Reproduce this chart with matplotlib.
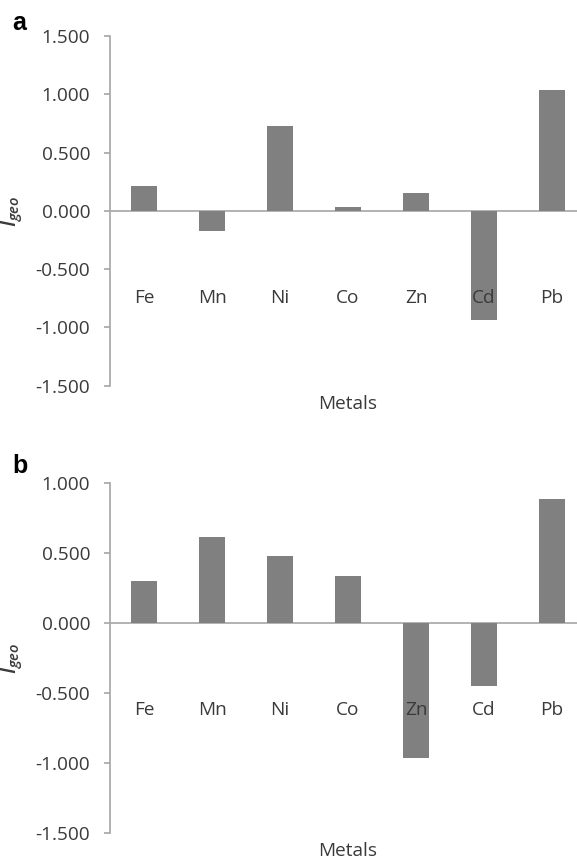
import matplotlib
matplotlib.use("Agg")
import matplotlib.pyplot as plt

metals = ["Fe", "Mn", "Ni", "Co", "Zn", "Cd", "Pb"]
igeo_a = [0.214, -0.176, 0.731, 0.031, 0.157, -0.937, 1.034]
igeo_b = [0.304, 0.619, 0.481, 0.338, -0.964, -0.448, 0.886]
yticks_a = [-1.5, -1.0, -0.5, 0.0, 0.5, 1.0, 1.5]
yticks_b = [-1.5, -1.0, -0.5, 0.0, 0.5, 1.0]

plt.rcParams["font.family"] = ["Open Sans", "DejaVu Sans"]
plt.rcParams["mathtext.fontset"] = "custom"
plt.rcParams["mathtext.rm"] = "Open Sans"
plt.rcParams["mathtext.it"] = "Open Sans:italic:semibold"

BAR = "#808080"
AXIS = "#a6a6a6"
TEXT = "#3a3a3a"
FS = 13.7

fig = plt.figure(figsize=(5.77, 8.6), dpi=100)


def panel(rect, values, ticks, letter, letter_y):
    ax = fig.add_axes(rect)
    x = list(range(len(metals)))
    ax.bar(x, values, width=0.38, color=BAR, zorder=2)
    ax.axhline(0, color=AXIS, lw=1.2, zorder=1)
    ax.set_xlim(-0.5, len(metals) - 0.5)
    ax.set_ylim(ticks[0], ticks[-1])
    ax.set_yticks(ticks)
    ax.set_yticklabels([f"{t:.3f}" for t in ticks])
    ax.set_xticks([])
    for s in ["top", "right", "bottom"]:
        ax.spines[s].set_visible(False)
    ax.spines["left"].set_color(AXIS)
    ax.spines["left"].set_linewidth(1.2)
    ax.tick_params(axis="y", colors=AXIS, labelcolor=TEXT, labelsize=FS,
                   length=4.3, width=1.2, pad=10)
    for i, m in enumerate(metals):
        ax.annotate(m, xy=(i, 0), xytext=(0, -87), textcoords="offset pixels",
                    ha="center", va="center", fontsize=FS, color=TEXT, zorder=4)
    ax.annotate("Metals", xy=(0.5, 0), xycoords="axes fraction",
                xytext=(0, -18), textcoords="offset pixels",
                ha="center", va="center", fontsize=FS, color=TEXT)
    ax.set_ylabel(r"$I_{geo}$", fontsize=FS + 1.5, color=TEXT)
    ax.yaxis.set_label_coords(-0.178, 0.5)
    fig.text(12 / 577, letter_y, letter, fontsize=18, fontweight="bold",
             family="Liberation Sans", ha="left", va="baseline", color="black")
    return ax


panel([110 / 577, 1 - 385.7 / 860, 476 / 577, 349.7 / 860],
      igeo_a, yticks_a, "a", 1 - 30 / 860)
panel([110 / 577, 1 - 832.7 / 860, 476 / 577, 349.4 / 860],
      igeo_b, yticks_b, "b", 1 - 473 / 860)

fig.savefig("out.png", dpi=100)
